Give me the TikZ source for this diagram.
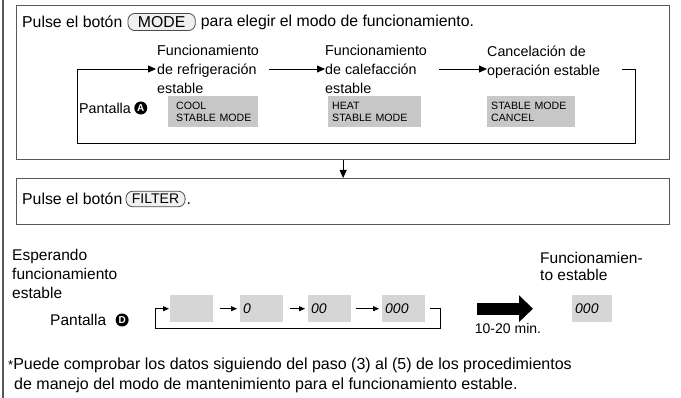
\documentclass[tikz,border=0pt]{standalone}
\usepackage{fontspec}
\setmainfont{Liberation Sans}
\usetikzlibrary{arrows.meta, positioning, calc}
\tikzset{panel/.style={draw=black!65, line width=1.3pt, anchor=north west, inner sep=0pt},
    txt/.style={inner sep=0pt, anchor=west, font=\fontsize{15.8}{19}\selectfont},
    lbl/.style={inner sep=0pt, anchor=west, align=left, font=\fontsize{14.3}{19}\selectfont},
    disp/.style={fill=black!22, anchor=north west, inner xsep=4pt, inner ysep=0pt,
        minimum height=31pt, align=left, font=\fontsize{10.6}{12.5}\selectfont},
    seg/.style={fill=black!16, anchor=north west, text width=37pt, inner xsep=3pt,
        inner ysep=0pt, minimum height=27pt, align=left, font=\fontsize{14}{14}\itshape},
    btn/.style={draw=black!70, fill=black!6, rounded corners=7pt, inner xsep=10pt,
        inner ysep=3pt, line width=0.8pt},
    badge/.style={circle, fill=black, text=white, inner sep=0pt, minimum size=13pt,
        font=\fontsize{10}{10}\selectfont\bfseries},
    flow/.style={draw, line width=0.8pt, -{Triangle[length=8pt,width=7pt]}},
    small flow/.style={draw, line width=0.8pt, -{Triangle[length=6pt,width=5pt]}},
    big flow/.style={draw, line width=12pt, -{Triangle[length=14pt,width=26pt]}}}

\begin{document}
\begin{tikzpicture}[x=1pt, y=-1pt]
    \useasboundingbox (0,0) rectangle (681,398);
    % Outer rule and the two panels
    \draw[black!65, line width=1.3pt] (3,0) -- (3,398);
    \node[panel, minimum width=653pt, minimum height=154pt] (box1) at (16,5) {};
    \node[panel, minimum width=653pt, minimum height=46pt] (box2) at (16,178) {};
    \draw[flow] (box1.south) -- (box2.north);

    % Step 1: MODE button
    \node[txt] (p1) at (22,22) {Pulse el botón};
    \node[btn, font=\fontsize{15.8}{19}\selectfont, right=5pt of p1] (mode) {MODE};
    \node[txt, right=5pt of mode] (p2) {para elegir el modo de funcionamiento.};

    % Cycle of stable modes
    \node[lbl] (refr) at (157,69) {Funcionamiento\\de refrigeración\\estable};
    \node[lbl] (calef) at (325,69) {Funcionamiento\\de calefacción\\estable};
    \node[lbl] (cancel) at (487,62) {Cancelación de\\operación estable};
    \draw[flow, shorten <=10pt] (refr.east) -- (calef.west);
    \draw[flow, shorten <=12pt] (calef.east) -- (calef.east -| cancel.west);
    \coordinate (tr) at (635,143);
    \coordinate (tl) at (77,143);
    \draw[flow, shorten <=22pt, shorten >=1pt] (cancel.east |- refr.west) -| (tr) -- (tl) |- (refr.west);

    % Display A
    \node[txt, font=\fontsize{14.3}{19}\selectfont] (pa) at (79,108) {Pantalla};
    \node[badge, right=3pt of pa] (ba) {A};
    \node[disp, text width=82pt] (cool) at (168,96) {\hspace*{4pt}COOL\\\hspace*{4pt}STABLE MODE};
    \node[disp, text width=85pt] (heat) at (328,96) {HEAT\\STABLE MODE};
    \node[disp, text width=80pt] (stop) at (487,96) {STABLE MODE\\CANCEL};

    % Step 2: FILTER button
    \node[txt] (q1) at (22,199) {Pulse el botón};
    \node[btn, font=\fontsize{14}{17}\selectfont, inner xsep=6pt, right=3pt of q1] (filter) {FILTER};
    \node[inner sep=0pt, anchor=base west, font=\fontsize{15.8}{19}\selectfont]
        (q2) at ([xshift=1pt]filter.east |- q1.base) {.};

    % Waiting for stable operation
    \node[lbl, font=\fontsize{15.5}{19}\selectfont] (wait) at (12,274) {Esperando\\funcionamiento\\estable};
    \node[txt, font=\fontsize{15.5}{19}\selectfont] (pd) at (50,320) {Pantalla};
    \node[badge, right=9pt of pd] (bd) {D};
    \node[seg] (d1) at (170,295) {};
    \node[seg] (d2) at (240,295) {0};
    \node[seg] (d3) at (308,295) {00};
    \node[seg] (d4) at (382,295) {000};
    \draw[small flow, shorten <=7pt, shorten >=3pt] (d1) -- (d2);
    \draw[small flow, shorten <=7pt, shorten >=3pt] (d2) -- (d3);
    \draw[small flow, shorten <=5pt, shorten >=3pt] (d3) -- (d4);
    \coordinate (br) at (440,328);
    \coordinate (bl) at (155,328);
    \draw[small flow, shorten <=5pt, shorten >=1pt] (d4.east) -| (br) -- (bl) |- (d1.west);

    % After 10-20 min
    \node[seg, text width=34pt] (fin) at (572,295) {000};
    \draw[big flow, shorten <=52pt, shorten >=39pt] (d4.east) -- (fin.west);
    \node[inner sep=0pt, font=\fontsize{14}{17}\selectfont] (tmin) at (508,328) {10-20 min.};
    \node[lbl, font=\fontsize{15.5}{17}\selectfont] (done) at (540,266) {Funcionamien-\\to estable};

    % Footnote
    \node[lbl, font=\fontsize{16}{20}\selectfont] (note) at (8,375)
        {{\fontsize{13}{13}\selectfont*}Puede comprobar los datos siguiendo del paso (3) al (5) de los procedimientos\\
         \hspace*{6pt}de manejo del modo de mantenimiento para el funcionamiento estable.};
\end{tikzpicture}
\end{document}
